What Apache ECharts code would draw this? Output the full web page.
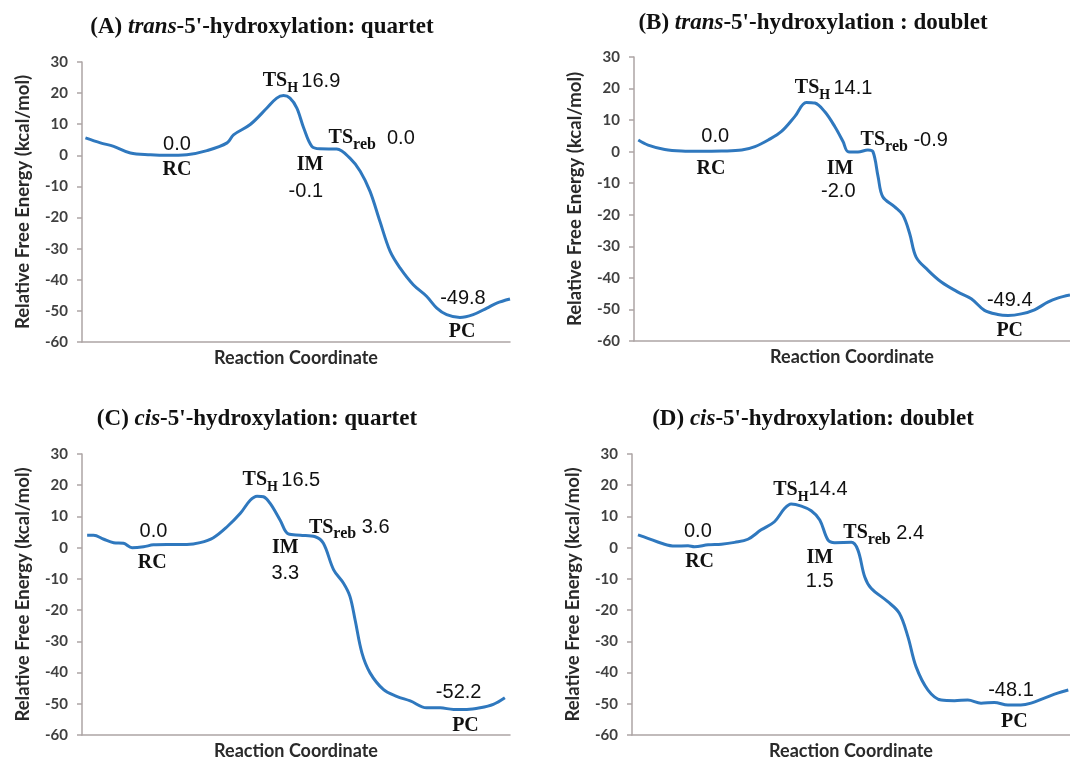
<!DOCTYPE html>
<html><head><meta charset="utf-8">
<script src="https://cdn.jsdelivr.net/npm/echarts@6/dist/echarts.min.js"></script>
<style>html,body{margin:0;padding:0;background:#fff}#c{width:1070px;height:761px}</style>
</head><body><div id="c"></div>
<script>
// ---- data ----
const yTickLabels = ['-60','-50','-40','-30','-20','-10','0','10','20','30'];
const panelTitles = [
  ['(A) ', 'trans', "-5'-hydroxylation: quartet"],
  ['(B) ', 'trans', "-5'-hydroxylation : doublet"],
  ['(C) ', 'cis', "-5'-hydroxylation: quartet"],
  ['(D) ', 'cis', "-5'-hydroxylation: doublet"]
];
const curveA = [[0.8,5.6],[4.3,4.0],[7.4,2.9],[11.3,0.75],[16,0.2],[19.8,0],[24.5,0.2],[29.2,1.5],[33.9,4.0],[35.4,6.6],[39.3,9.9],[43.2,15.2],[45.5,18.4],[47.1,19.2],[48.6,18.4],[50.2,15.2],[51.8,8.8],[53.7,2.9],[55.6,2.1],[59.5,2.0],[62.6,-0.9],[65,-5.1],[67.3,-11.6],[69.6,-21.2],[72,-30.9],[74.3,-36.2],[77.4,-41.6],[80.5,-45.3],[82.9,-49.1],[85.2,-51.2],[88.3,-52.1],[91.4,-51.2],[94.6,-49.1],[96.9,-47.5],[100,-46.2]];
const curveB = [[1.0,3.7],[3.3,2.1],[7.2,0.7],[11.1,0.2],[15.8,0.1],[20.5,0.2],[25.2,0.5],[28.3,1.6],[31.4,3.7],[34.5,6.4],[37.6,11.1],[40.3,15.6],[42.3,15.4],[44.6,12.7],[47.0,7.9],[48.9,3.2],[50.1,0],[52.4,-0.1],[54.7,0.5],[55.9,0],[57.1,-7.9],[58.2,-14.3],[61.0,-17.5],[62.9,-20.1],[64.5,-26],[66.0,-33.4],[68.8,-37.6],[71.9,-41.3],[75.8,-44.5],[78.9,-46.6],[82.0,-50.3],[85.1,-51.6],[87.5,-51.9],[90.6,-51.4],[93.7,-50.1],[96.8,-47.7],[99.1,-46.4],[102,-45.4]];
const curveC = [[1.2,4.0],[2.7,4.0],[5.1,2.7],[7.4,1.6],[9.7,1.4],[11.7,0],[14.4,0.3],[16.7,0.9],[19.8,1.0],[24.5,1.0],[27.6,1.6],[30.7,3.2],[33.9,6.7],[37.0,11.0],[39.3,15.2],[40.9,16.5],[42.4,16.3],[44.0,14.1],[46.3,8.8],[48.2,4.4],[51.0,4.0],[54.5,3.5],[56.4,1.4],[58.8,-7.1],[61.1,-11.4],[62.6,-15.6],[63.8,-23.1],[65.4,-33.7],[67.3,-40.1],[70.4,-45.4],[73.5,-47.6],[76.7,-49.1],[80.5,-51.3],[83.7,-51.3],[86.8,-51.8],[89.9,-51.8],[93.0,-51.3],[96.1,-50.2],[98.8,-48.1]];
const curveD = [[1.4,4.1],[3.7,3.0],[6.9,1.4],[10.0,0.5],[13.1,0.6],[14.6,0.3],[17.8,0.9],[20.9,1.1],[24.0,1.7],[27.1,2.7],[30.2,5.7],[33.3,8.3],[35.7,12.6],[37.2,14.0],[39.6,13.3],[41.9,11.8],[43.9,8.9],[45.8,2.5],[47.4,1.6],[51.3,1.7],[52.8,-0.7],[54.4,-9.3],[55.9,-13.0],[59.8,-17.3],[62.5,-21.0],[64.5,-28.5],[66.4,-38.1],[69.2,-45.6],[72.3,-48.8],[75.4,-49.0],[78.5,-48.8],[81.6,-49.8],[84.7,-49.6],[87.9,-50.4],[90.9,-50.4],[93.3,-49.8],[96.4,-48.2],[99.5,-46.6],[102,-45.6]];
// annotations: [x, y, rich text, anchor]
const labelsA = [[42.1,23.8,'{b|TS}{s|H} {n|16.9}','l'],[22.2,3.5,'{n|0.0}','c'],[22.2,-4.5,'{b|RC}','c'],[53.3,-2.9,'{b|IM}','c'],[52.3,-11.6,'{n|-0.1}','c'],[57.5,5.5,'{b|TS}{r|reb}{n|  0.0}','l'],[89.0,-46.0,'{n|-49.8}','c'],[88.8,-56.6,'{b|PC}','c']];
const labelsB = [[37.5,20.1,'{b|TS}{s|H} {n|14.1}','l'],[19.0,4.8,'{n|0.0}','c'],[18.0,-5.3,'{b|RC}','c'],[48.2,-5.5,'{b|IM}','c'],[47.8,-12.7,'{n|-2.0}','c'],[52.9,3.7,'{b|TS}{r|reb}{n| -0.9}','l'],[87.9,-47.1,'{n|-49.4}','c'],[87.9,-56.7,'{b|PC}','c']];
const labelsC = [[37.4,21.6,'{b|TS}{s|H} {n|16.5}','l'],[16.7,5.1,'{n|0.0}','c'],[16.4,-5.0,'{b|RC}','c'],[47.5,-0.2,'{b|IM}','c'],[47.5,-8.2,'{n|3.3}','c'],[52.9,6.5,'{b|TS}{r|reb}{n| 3.6}','l'],[88.0,-46.5,'{n|-52.2}','c'],[89.6,-57.1,'{b|PC}','c']];
const labelsD = [[32.9,18.5,'{b|TS}{s|H}{n|14.4}','l'],[15.4,5.1,'{n|0.0}','c'],[15.8,-4.5,'{b|RC}','c'],[43.9,-3.4,'{b|IM}','c'],[43.9,-10.9,'{n|1.5}','c'],[49.3,4.6,'{b|TS}{r|reb}{n| 2.4}','l'],[88.6,-45.6,'{n|-48.1}','c'],[89.4,-55.7,'{b|PC}','c']];

const curves = [curveA, curveB, curveC, curveD];
const labels = [labelsA, labelsB, labelsC, labelsD];

// ---- layout / style ----
const grids = [
  {left: 82, top: 62, width: 428, height: 280, xMax: 100, titleX: 257, titleY: 11},
  {left: 634, top: 57, width: 436, height: 284, xMax: 102, titleX: 808, titleY: 7},
  {left: 82, top: 454, width: 428, height: 282, xMax: 100, titleX: 252, titleY: 403},
  {left: 632, top: 454, width: 438, height: 281, xMax: 102.4, titleX: 808, titleY: 403}
];
const axisColor = '#ADA5A5';
const lineColor = '#2F78BE';
const textColor = '#111';
const serif = 'Liberation Serif';
const sans = 'Liberation Sans';
const uiFont = 'Lato';
const rich = {
  b: {fontFamily: serif, fontWeight: 'bold', fontSize: 20, color: textColor, lineHeight: 22},
  s: {fontFamily: serif, fontWeight: 'bold', fontSize: 14, color: textColor, lineHeight: 16, padding: [14, 0, 0, 0]},
  r: {fontFamily: serif, fontWeight: 'bold', fontSize: 16, color: textColor, lineHeight: 17, padding: [13, 0, 0, 0]},
  n: {fontFamily: sans, fontSize: 20, color: textColor, lineHeight: 22}
};

const option = {
  animation: false,
  backgroundColor: '#fff',
  title: grids.map((g, i) => ({
    text: '{r|' + panelTitles[i][0] + '}{i|' + panelTitles[i][1] + '}{r|' + panelTitles[i][2] + '}',
    left: g.titleX, top: g.titleY, textAlign: 'center',
    textStyle: {
      rich: {
        r: {fontFamily: serif, fontWeight: 'bold', fontSize: 23, color: textColor},
        i: {fontFamily: serif, fontWeight: 'bold', fontStyle: 'italic', fontSize: 23, color: textColor}
      }
    }
  })),
  grid: grids.map(g => ({left: g.left, top: g.top, width: g.width, height: g.height})),
  xAxis: grids.map((g, i) => ({
    type: 'value', gridIndex: i, min: 0, max: g.xMax,
    name: 'Reaction Coordinate', nameLocation: 'middle', nameGap: 7,
    nameTextStyle: {fontFamily: uiFont, fontWeight: 'bold', fontSize: 18, color: '#2a2a2a'},
    axisLine: {show: true, onZero: false, lineStyle: {color: axisColor, width: 1.5}},
    axisTick: {show: false}, axisLabel: {show: false}, splitLine: {show: false}
  })),
  yAxis: grids.map((g, i) => ({
    type: 'value', gridIndex: i, min: -60, max: 30, interval: 10,
    name: 'Relative Free Energy (kcal/mol)', nameLocation: 'middle', nameGap: 49, nameRotate: 90,
    nameTextStyle: {fontFamily: uiFont, fontWeight: 'bold', fontSize: 18.5, color: '#2a2a2a'},
    axisLine: {show: true, onZero: false, lineStyle: {color: axisColor, width: 1.5}},
    axisTick: {show: true, length: 5, lineStyle: {color: axisColor, width: 1.5}},
    axisLabel: {fontFamily: uiFont, fontWeight: 'bold', fontSize: 15, color: '#404040', margin: 14,
      formatter: v => yTickLabels[Math.round((v + 60) / 10)]},
    splitLine: {show: false}
  })),
  series: [].concat(
    curves.map((c, i) => ({
      type: 'line', xAxisIndex: i, yAxisIndex: i, data: c, smooth: 0.35,
      showSymbol: false, silent: true,
      lineStyle: {color: lineColor, width: 3}
    })),
    labels.map((ls, i) => ({
      type: 'scatter', xAxisIndex: i, yAxisIndex: i, symbolSize: 1, silent: true, clip: false,
      itemStyle: {color: 'rgba(0,0,0,0)'},
      data: ls.map(l => ({
        value: [l[0], l[1]],
        label: {show: true, formatter: l[2], position: l[3] === 'l' ? 'right' : 'inside',
          distance: 0, align: l[3] === 'l' ? 'left' : 'center', verticalAlign: 'middle',
          color: textColor, textBorderWidth: 0, opacity: 1, rich: rich}
      }))
    }))
  )
};
const chart = echarts.init(document.getElementById('c'), null, {renderer: 'canvas'});
chart.setOption(option);
</script></body></html>
